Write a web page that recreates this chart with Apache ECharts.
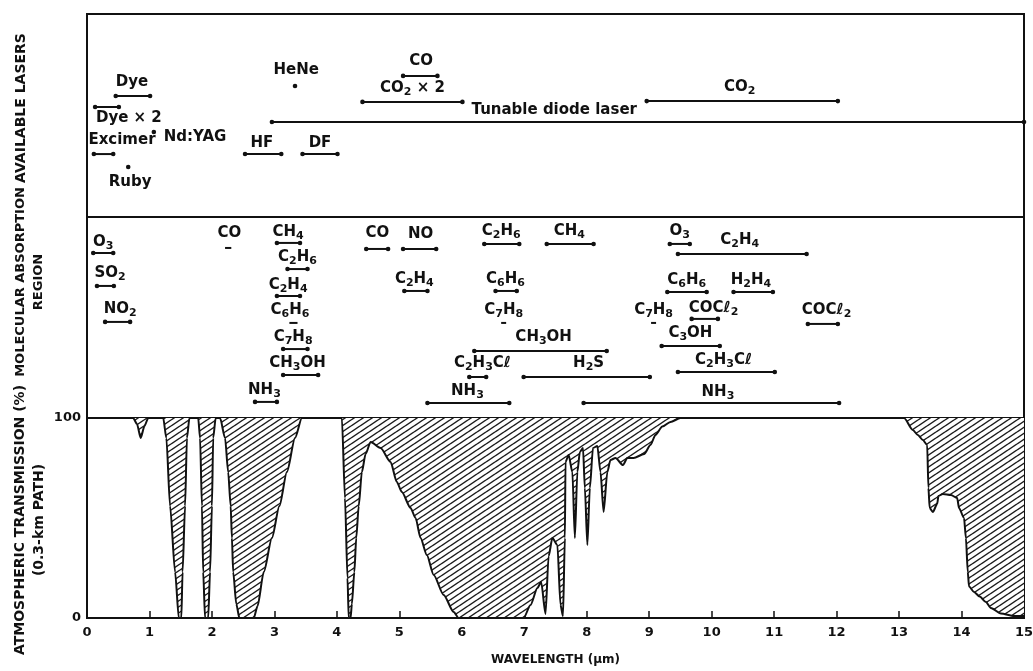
<!DOCTYPE html>
<html><head><meta charset="utf-8">
<script src="https://cdn.jsdelivr.net/npm/echarts@6/dist/echarts.min.js"></script>
<style>html,body{margin:0;padding:0;background:#fff}#c{width:1033px;height:671px}</style>
</head><body><div id="c"></div>
<script>
// ---------- DATA ----------
// Atmospheric transmission (%) vs wavelength (µm)
const wavelength = [
  0, 0.74, 0.80, 0.86, 0.92, 0.98,
  1.22, 1.27, 1.33, 1.41, 1.47, 1.51, 1.53, 1.57, 1.60, 1.64,
  1.78, 1.81, 1.84, 1.86, 1.89, 1.94, 1.97, 2.00, 2.02, 2.06,
  2.13, 2.21, 2.26, 2.30, 2.32, 2.34, 2.39, 2.44, 2.67, 2.73, 2.83, 2.96, 3.08, 3.20, 3.33, 3.44,
  4.08, 4.13, 4.17, 4.19, 4.22, 4.24, 4.28, 4.31, 4.35, 4.40, 4.46, 4.54, 4.70, 4.86, 4.96, 5.04, 5.18, 5.26, 5.34, 5.44, 5.55, 5.71, 5.87, 5.95,
  6.99, 7.10, 7.21, 7.27, 7.34, 7.39, 7.45, 7.53, 7.58, 7.62, 7.65, 7.66, 7.71, 7.77, 7.81, 7.85, 7.89, 7.94, 7.97, 8.01, 8.05, 8.10, 8.17, 8.22, 8.27, 8.33, 8.38,
  8.46, 8.58, 8.65, 8.75, 8.92, 9.02, 9.10, 9.21, 9.34, 9.50,
  13.08, 13.22, 13.30, 13.38, 13.45, 13.47, 13.49, 13.54, 13.61, 13.63, 13.70, 13.83, 13.93, 13.96, 14.04, 14.07, 14.10, 14.12, 14.20, 14.29, 14.39, 14.47, 14.63, 14.84, 15
];
const transmission = [
  100, 100, 97, 90, 96, 100,
  100, 90, 56, 23, 0, 0, 23, 56, 90, 100,
  100, 90, 56, 23, 0, 0, 23, 56, 90, 100,
  100, 90, 73, 56, 40, 23, 7, 0, 0, 6, 23, 40, 56, 73, 90, 100,
  100, 60, 20, 0, 0, 7, 23, 40, 56, 73, 82, 88, 85, 78, 68, 63, 55, 50, 40, 31.5, 21.5, 11.5, 3, 0,
  0, 6.5, 15, 18, 2, 31, 40, 36.5, 6.5, 1, 40, 78, 81.5, 73, 40, 73, 83, 85, 65, 36.5, 65, 85, 86, 73, 53, 73, 79,
  80, 76.5, 80, 80, 82, 86.5, 91.5, 95.7, 98, 100,
  100, 94, 91.5, 89, 86.5, 65, 55, 53, 57, 61, 62, 61.5, 60, 55, 50, 40, 23, 15.7, 13, 10.7, 8, 5, 2.3, 1, 1
];
const wavelengthTicks = [0, 1, 2, 3, 4, 5, 6, 7, 8, 9, 10, 11, 12, 13, 14, 15];
const transmissionTicks = [0, 100];

// Available lasers: [name, start µm, end µm, row (0 top..100 bottom), label µm, label row]
const lasers = [
  ['Dye', 0.46, 1.01, 40.4, 0.72, 33.5],
  ['Dye × 2', 0.13, 0.51, 45.8, 0.67, 51.2],
  ['Excimer', 0.11, 0.42, 69.0, 0.56, 62.1],
  ['Nd:YAG', 1.07, 1.07, 58.1, 1.73, 60.6],
  ['Ruby', 0.66, 0.66, 75.4, 0.69, 82.8],
  ['HeNe', 3.33, 3.33, 35.5, 3.35, 27.6],
  ['HF', 2.53, 3.11, 69.0, 2.80, 63.5],
  ['DF', 3.45, 4.01, 69.0, 3.73, 63.5],
  ['Tunable diode laser', 2.96, 15, 53.2, 7.48, 47.3],
  ['CO2 × 2', 4.41, 6.01, 43.3, 5.21, 36.5],
  ['CO', 5.06, 5.61, 30.5, 5.35, 23.2],
  ['CO2', 8.96, 12.02, 42.9, 10.45, 36.0]
];

// Molecular absorption regions: [name, start µm, end µm, row, label µm, label row]
const molecules = [
  ['O3', 0.10, 0.42, 17.9, 0.26, 12.4],
  ['SO2', 0.16, 0.43, 34.3, 0.37, 27.9],
  ['NO2', 0.29, 0.69, 52.2, 0.53, 45.8],
  ['CO', 2.21, 2.31, 15.4, 2.28, 8.0],
  ['CH4', 3.04, 3.41, 12.9, 3.22, 7.5],
  ['C2H6', 3.21, 3.53, 25.9, 3.37, 19.9],
  ['C2H4', 3.04, 3.41, 39.3, 3.22, 33.8],
  ['C6H6', 3.24, 3.37, 52.7, 3.25, 46.3],
  ['C7H8', 3.14, 3.53, 65.7, 3.30, 59.7],
  ['CH3OH', 3.14, 3.70, 78.6, 3.37, 72.6],
  ['NH3', 2.69, 3.04, 92.0, 2.84, 86.1],
  ['CO', 4.47, 4.82, 15.9, 4.65, 8.0],
  ['NO', 5.06, 5.59, 15.9, 5.34, 8.5],
  ['C2H6', 6.36, 6.92, 13.4, 6.63, 7.0],
  ['CH4', 7.36, 8.11, 13.4, 7.72, 7.0],
  ['O3', 9.33, 9.65, 13.4, 9.49, 7.0],
  ['C2H4', 5.08, 5.45, 36.8, 5.24, 30.8],
  ['C6H6', 6.54, 6.88, 36.8, 6.70, 30.8],
  ['C7H8', 6.63, 6.71, 52.7, 6.67, 46.3],
  ['C7H8', 9.03, 9.11, 52.7, 9.07, 46.3],
  ['CH3OH', 6.20, 8.32, 66.7, 7.31, 59.7],
  ['C2H3Cℓ', 6.12, 6.39, 79.6, 6.33, 72.6],
  ['H2S', 6.99, 9.01, 79.6, 8.03, 72.6],
  ['NH3', 5.45, 6.76, 92.5, 6.09, 86.6],
  ['NH3', 7.95, 12.04, 92.5, 10.10, 87.1],
  ['C2H4', 9.46, 11.52, 18.4, 10.45, 11.4],
  ['C6H6', 9.29, 9.92, 37.3, 9.60, 31.3],
  ['H2H4', 10.35, 10.98, 37.3, 10.63, 31.3],
  ['COCℓ2', 9.68, 10.10, 50.7, 10.03, 45.3],
  ['COCℓ2', 11.54, 12.02, 53.2, 11.84, 46.3],
  ['C3OH', 9.20, 10.13, 64.2, 9.66, 57.7],
  ['C2H3Cℓ', 9.46, 11.01, 77.1, 10.19, 71.1]
];

// ---------- RENDERING ----------
const INK = '#111';
const FONT = '"DejaVu Sans", "Liberation Sans", sans-serif';

function hatchPattern() {
  const w = 9, h = 6;
  const c = document.createElement('canvas');
  c.width = w; c.height = h;
  const g = c.getContext('2d');
  g.fillStyle = '#fff'; g.fillRect(0, 0, w, h);
  g.strokeStyle = '#1a1a1a'; g.lineWidth = 1.4;
  const offs = [[0, 0], [-w, 0], [w, 0], [0, -h], [0, h]];
  offs.forEach(o => {
    g.beginPath(); g.moveTo(o[0], h + o[1]); g.lineTo(w + o[0], o[1]); g.stroke();
  });
  return c;
}

const RICH = {
  n: { fontSize: 15, fontWeight: 'bold', fontFamily: FONT, fill: INK, color: INK, lineHeight: 20 },
  s: { fontSize: 11, fontWeight: 'bold', fontFamily: FONT, fill: INK, color: INK, lineHeight: 11, verticalAlign: 'bottom' }
};
function toRich(s) {
  const parts = s.split(/(\d+)/);
  let out = '';
  for (let k = 0; k < parts.length; k++) {
    const p = parts[k];
    if (!p) continue;
    const isNum = /^\d+$/.test(p);
    const prev = k > 0 ? parts[k - 1] : '';
    if (isNum && /[A-Za-zℓ]$/.test(prev)) out += '{s|' + p + '}';
    else out += '{n|' + p + '}';
  }
  return out;
}

function segRenderer(rows) {
  return function (params, api) {
    const i = params.dataIndex;
    const p1 = api.coord([api.value(0), api.value(2)]);
    const p2 = api.coord([api.value(1), api.value(2)]);
    const lp = api.coord([api.value(3), api.value(4)]);
    const children = [];
    const len = p2[0] - p1[0];
    if (len < 1) {
      children.push({ type: 'circle', shape: { cx: p1[0], cy: p1[1], r: 2.3 }, style: { fill: INK } });
    } else {
      children.push({ type: 'line', shape: { x1: p1[0], y1: p1[1], x2: p2[0], y2: p2[1] }, style: { stroke: INK, lineWidth: 2 } });
      if (len > 10) {
        children.push({ type: 'circle', shape: { cx: p1[0], cy: p1[1], r: 2.3 }, style: { fill: INK } });
        children.push({ type: 'circle', shape: { cx: p2[0], cy: p2[1], r: 2.3 }, style: { fill: INK } });
      }
    }
    children.push({
      type: 'text', x: lp[0], y: lp[1],
      style: { text: toRich(rows[i][0]), rich: RICH, align: 'center', verticalAlign: 'middle', fill: INK }
    });
    return { type: 'group', children: children };
  };
}

const gridBase = { left: 87, width: 937, show: true, borderColor: INK, borderWidth: 2, backgroundColor: 'transparent', outerBoundsMode: 'none', containLabel: false };
const axisTextStyle = { color: INK, fontFamily: FONT, fontWeight: 'bold', fontSize: 13 };

const option = {
  backgroundColor: '#fff',
  animation: false,
  grid: [
    Object.assign({ top: 14, height: 203 }, gridBase),
    Object.assign({ top: 217, height: 201 }, gridBase),
    Object.assign({ top: 418, height: 200 }, gridBase)
  ],
  xAxis: [
    { gridIndex: 0, type: 'value', min: 0, max: 15, show: false },
    { gridIndex: 1, type: 'value', min: 0, max: 15, show: false },
    {
      gridIndex: 2, type: 'value', min: 0, max: 15, interval: 1,
      axisLine: { show: true, lineStyle: { color: INK, width: 2 } },
      axisTick: { show: true, inside: true, length: 7, lineStyle: { color: INK, width: 1.5 } },
      splitLine: { show: false },
      axisLabel: Object.assign({ margin: 8, formatter: v => wavelengthTicks.includes(v) ? String(v) : '' }, axisTextStyle),
      name: 'WAVELENGTH (µm)', nameLocation: 'middle', nameGap: 36,
      nameTextStyle: { color: INK, fontFamily: FONT, fontWeight: 'bold', fontSize: 12 }
    }
  ],
  yAxis: [
    { gridIndex: 0, type: 'value', min: 0, max: 100, inverse: true, show: false },
    { gridIndex: 1, type: 'value', min: 0, max: 100, inverse: true, show: false },
    {
      gridIndex: 2, type: 'value', min: 0, max: 100, interval: 100,
      axisLine: { show: true, lineStyle: { color: INK, width: 2 } },
      axisTick: { show: false }, splitLine: { show: false },
      axisLabel: Object.assign({ margin: 6, formatter: v => transmissionTicks.includes(v) ? String(v) : '' }, axisTextStyle)
    }
  ],
  graphic: [
    { type: 'text', x: 21, y: 108, rotation: Math.PI / 2,
      style: { text: 'AVAILABLE LASERS', font: 'bold 14px ' + FONT, fill: INK, align: 'center', verticalAlign: 'middle' } },
    { type: 'text', x: 30, y: 282, rotation: Math.PI / 2,
      style: { text: 'MOLECULAR ABSORPTION\nREGION', font: 'bold 13px ' + FONT, lineHeight: 18, fill: INK, align: 'center', verticalAlign: 'middle' } },
    { type: 'text', x: 30, y: 520, rotation: Math.PI / 2,
      style: { text: 'ATMOSPHERIC TRANSMISSION (%)\n(0.3-km PATH)', font: 'bold 14px ' + FONT, lineHeight: 19, fill: INK, align: 'center', verticalAlign: 'middle' } }
  ],
  series: [
    {
      type: 'line', xAxisIndex: 2, yAxisIndex: 2,
      data: wavelength.map((w, i) => [w, transmission[i]]),
      showSymbol: false, symbol: 'none', smooth: 0.25, smoothMonotone: 'x', silent: true,
      lineStyle: { color: INK, width: 2 },
      areaStyle: { origin: 'end', color: { image: hatchPattern(), repeat: 'repeat' }, opacity: 1 },
      z: 2
    },
    {
      type: 'custom', xAxisIndex: 0, yAxisIndex: 0, silent: true,
      data: lasers.map(r => [r[1], r[2], r[3], r[4], r[5]]),
      renderItem: segRenderer(lasers), z: 3
    },
    {
      type: 'custom', xAxisIndex: 1, yAxisIndex: 1, silent: true,
      data: molecules.map(r => [r[1], r[2], r[3], r[4], r[5]]),
      renderItem: segRenderer(molecules), z: 3
    }
  ]
};

const chart = echarts.init(document.getElementById('c'), null, { renderer: 'canvas' });
chart.setOption(option);
</script>
</body></html>
